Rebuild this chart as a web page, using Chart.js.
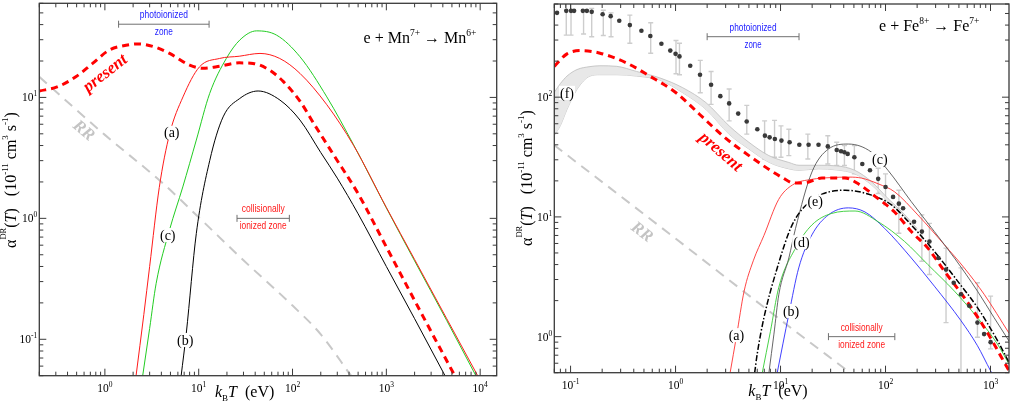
<!DOCTYPE html>
<html lang="en">
<head>
<meta charset="UTF-8">
<title>DR rate coefficients: Mn7+ and Fe8+</title>
<script src="https://cdn.jsdelivr.net/npm/chart.js"></script>
<style>
  body { margin: 0; background: #fff; }
  #wrap { position: relative; width: 1013px; height: 406px; overflow: hidden; }
  canvas { position: absolute; top: 0; }
</style>
</head>
<body>
<div id="wrap">
  <canvas id="mnChart" style="left:0"></canvas>
  <canvas id="feChart" style="left:505px"></canvas>
</div>
<script>
// ---------- left panel: e + Mn7+ -> Mn6+ ----------
const mnPresentT = [0.2, 0.31, 0.49, 0.74, 1.11, 1.68, 2.3, 3.3, 4.9, 8.0, 11.1, 16.7, 27, 38, 57, 80, 120, 175, 274, 500, 1000, 2500, 5360];
const mnPresent  = [11.3, 12.2, 14.8, 19.1, 24.6, 27.0, 27.7, 26.3, 23.1, 18.5, 17.4, 18.1, 19.3, 19.1, 16.8, 13.5, 9.3, 5.8, 3.35, 1.6, 0.58, 0.151, 0.05];
const mnAT = [2.15, 2.6, 3.0, 3.8, 4.9, 6.8, 10.2, 16.7, 27, 45, 73, 120, 232, 448, 1000, 2000, 4400, 9400];
const mnA  = [0.05, 0.16, 0.40, 1.8, 5.0, 10.1, 17.9, 21.0, 21.9, 23.1, 21.0, 15.8, 8.7, 4.0, 1.23, 0.457, 0.148, 0.05];
const mnBT = [6.5, 7.37, 9.43, 13.1, 18.2, 27.4, 43, 73.5, 120, 200, 300, 500, 1000, 2000, 4220];
const mnB  = [0.05, 0.112, 0.75, 3.0, 6.9, 9.8, 11.3, 9.5, 6.5, 3.5, 2.15, 1.09, 0.40, 0.148, 0.05];
const mnCT = [2.53, 3.0, 3.52, 4.88, 6.77, 9.43, 13.1, 19.7, 27.4, 41.4, 67.7, 120, 232, 448, 1000, 2000, 4400, 9000];
const mnC  = [0.05, 0.123, 0.29, 0.80, 1.82, 4.44, 10.8, 21, 29.8, 35.5, 32.7, 21.7, 10.1, 4.05, 1.22, 0.445, 0.143, 0.05];
const mnRRT = [0.2, 1, 4, 10, 30, 100, 200, 420];
const mnRR  = [14.8, 4.9, 2.0, 1.02, 0.45, 0.19, 0.11, 0.05];
const mnXDecades = [0, 1, 2, 3, 4];
const mnYDecades = [-1, 0, 1];

// ---------- right panel: e + Fe8+ -> Fe7+ ----------
const feExpT = [0.0743, 0.091, 0.101, 0.108, 0.131, 0.143, 0.159, 0.202, 0.241, 0.291, 0.367, 0.473, 0.575, 0.733, 0.891, 1.0, 1.09, 1.38, 1.71, 2.18, 2.67, 3.24, 3.95, 4.76, 6.01, 7.10, 7.87, 8.83, 10.2, 12.2, 15.1, 18.5, 23.0, 28.2, 34.3, 37.7, 40.6, 43.6, 50.5, 60.1, 71.1, 85.1, 100, 118, 134, 147, 187, 222, 262, 319, 377, 446, 523, 627, 751, 869, 1002];
const feExp  = [506, 526, 526, 526, 526, 526, 516, 493, 475, 435, 400, 359, 324, 279, 245, 230, 219, 183, 154, 127, 102, 88.7, 72.9, 62.6, 54.0, 47.7, 46.2, 44.7, 43.4, 42.0, 40.1, 40.1, 40.1, 38.8, 36.2, 35.3, 34.7, 33.6, 31.5, 27.7, 24.5, 20.8, 17.8, 14.7, 12.9, 11.8, 9.12, 7.54, 6.23, 4.54, 3.63, 2.82, 2.26, 1.81, 1.31, 1.05, 0.90];
const feErrT  = [0.091, 0.101, 0.133, 0.159, 0.205, 0.243, 0.367, 0.58, 1.01, 1.09, 1.72, 2.18, 3.24, 4.77, 7.05, 8.77, 10.1, 12.0, 18.2, 28.2, 34.3, 40.6, 50.5, 85.1, 100, 134, 222, 262, 377, 523, 751, 1002];
const feErrLo = [330, 330, 337, 320, 327, 320, 282, 233, 157, 154, 109, 87, 63.4, 49.1, 30.5, 31.5, 31.5, 32.5, 30.5, 27.7, 26.9, 26.9, 22.9, 15.7, 12.6, 7.3, 4.26, 3.30, 1.31, 0.3, 0.99, 0.79];
const feErrHi = [700, 700, 532, 550, 532, 506, 484, 418, 297, 282, 203, 164, 117, 85.4, 63.4, 64, 57.6, 54, 49.1, 47.6, 42, 39.4, 39.4, 25.5, 22.9, 16.7, 10.4, 8.84, 5.49, 3.75, 2.82, 2.18];
const feBandT  = [0.07, 0.08, 0.0925, 0.115, 0.153, 0.19, 0.275, 0.425, 0.706, 1.17, 1.95, 3.24, 5.0, 7.75, 12, 15, 23, 34, 51, 74, 106, 150, 200];
const feBandHi = [110, 130, 150, 170, 180, 183, 181, 164, 145, 120, 90, 57.6, 42, 32.5, 28.5, 27, 27, 26.7, 24.5, 19.6, 14.2, 10.6, 8.0];
const feBandLo = [48, 58, 79, 116, 150, 154, 154, 150, 139, 109, 79, 49, 36.9, 28.6, 25.2, 24.5, 25.2, 24.7, 22.9, 18.4, 13.4, 10.2, 7.6];
const fePresentT = [0.07, 0.0925, 0.128, 0.191, 0.342, 0.567, 1.01, 1.69, 2.81, 5.0, 10.4, 13.4, 17.2, 24.8, 41, 55, 85, 122, 176, 253, 364, 562, 869, 1500];
const fePresent  = [181, 230, 245, 233, 193, 150, 109, 72, 47.7, 32.5, 21.3, 19.2, 19.3, 21.1, 21.1, 18.9, 14.2, 11.0, 7.54, 5.49, 3.52, 2.12, 1.2, 0.52];
const feAT = [3.31, 3.8, 4.5, 5.5, 6.95, 9.6, 13, 19.9, 30, 45, 59, 85, 122, 203, 364, 562, 869, 1500];
const feA  = [0.5, 1.0, 2.4, 4.3, 7.0, 14.0, 18.5, 20.6, 21.3, 21.5, 21.1, 18.9, 16.2, 10.4, 5.85, 3.75, 2.26, 1.07];
const feBT = [9.3, 12.0, 14.9, 19.9, 28.6, 44.3, 63.7, 98, 176, 292, 523, 751, 1000, 1150];
const feB  = [0.5, 1.54, 3.75, 7.08, 10.4, 11.9, 11.0, 8.03, 4.54, 2.64, 1.36, 0.84, 0.52, 0.42];
const feCT = [7.75, 8.65, 9.64, 12.0, 13.9, 19.9, 28.6, 44.3, 73.6, 106, 176, 292, 453, 751, 1082, 1500];
const feC  = [0.5, 1.05, 2.26, 4.54, 8.03, 23.7, 36.9, 40.6, 34.7, 24.4, 13.4, 7.54, 4.54, 2.40, 1.44, 0.92];
const feDT = [6.7, 8.0, 9.6, 13.9, 19.9, 30.8, 51.3, 85, 152, 253, 453, 751, 1162, 1500];
const feD  = [0.5, 1.1, 2.56, 5.49, 8.57, 10.7, 11.2, 9.12, 6.23, 4.0, 2.40, 1.44, 0.87, 0.59];
const feET = [5.67, 6.0, 6.95, 9.3, 12.9, 19.9, 41.2, 73.6, 114, 176, 292, 486, 751, 1162, 1500];
const feE  = [0.5, 0.72, 1.44, 3.75, 8.57, 13.8, 16.7, 15.2, 12.6, 8.57, 5.15, 2.91, 1.75, 0.93, 0.61];
const feRRT = [0.07, 1, 10, 46];
const feRR  = [39.7, 6.6, 1.38, 0.5];
const feXDecades = [-1, 0, 1, 2, 3];
const feYDecades = [0, 1, 2];

const SERIF = '"Liberation Serif", "Times New Roman", serif';
const NARROW = '"Liberation Sans Narrow", "Liberation Sans", Arial, sans-serif';
const sf = (px, style) => (style || '') + ' ' + px + 'px ' + SERIF;

const pts = (T, Y) => T.map((t, i) => ({ x: t, y: Y[i] }));
const curve = (T, Y, color, width, dash) => ({
  data: pts(T, Y), borderColor: color, borderWidth: width, borderDash: dash || [],
  pointRadius: 0, fill: false, cubicInterpolationMode: 'monotone'
});

// draws a run of text pieces (sub/superscripts) on one baseline
function rich(ctx, parts, x, y, align) {
  let w = 0;
  parts.forEach(p => { ctx.font = p.f; p.w = ctx.measureText(p.t).width; w += p.w; });
  let cx = align === 'center' ? x - w / 2 : align === 'right' ? x - w : x;
  ctx.textAlign = 'left';
  parts.forEach(p => { ctx.font = p.f; ctx.fillText(p.t, cx, y + (p.dy || 0)); cx += p.w; });
  return w;
}

// text squeezed to a given width (small condensed zone captions)
function fitText(ctx, t, x, y, w, font) {
  ctx.font = font;
  const m = ctx.measureText(t).width;
  ctx.save();
  ctx.translate(x, y);
  ctx.scale(w / m, 1);
  ctx.textAlign = 'center';
  ctx.fillText(t, 0, 0);
  ctx.restore();
}

const yTitle = () => [
  { t: 'α', f: sf(16) }, { t: 'DR', f: sf(8.5), dy: -10 }, { t: '(', f: sf(16) },
  { t: 'T', f: sf(16, 'italic') }, { t: ')   (10', f: sf(16) }, { t: '-11', f: sf(9), dy: -8 },
  { t: ' cm', f: sf(16) }, { t: '3', f: sf(9), dy: -8 }, { t: ' s', f: sf(16) },
  { t: '-1', f: sf(9), dy: -8 }, { t: ')', f: sf(16) }
];
const xTitle = () => [
  { t: 'k', f: sf(16, 'italic') }, { t: 'B', f: sf(9), dy: 4 },
  { t: 'T', f: sf(16, 'italic') }, { t: '  (eV)', f: sf(16) }
];
const reaction = (ion, q1, q2) => [
  { t: 'e + ' + ion, f: sf(16) }, { t: q1, f: sf(9.5), dy: -7 },
  { t: ' → ' + ion, f: sf(16) }, { t: q2, f: sf(9.5), dy: -7 }
];

const PANELS = {
  mnChart: {
    xDec: mnXDecades, yDec: mnYDecades,
    xTitleDx: 175.7, xTitleDy: 21, yTitleX: 15.5, yTitleY: 180,
    title: { parts: () => reaction('Mn', '7+', '6+'), dx: -76.7, y: 43 },
    zones: [
      { t0: 1.4, t1: 12.9, y: 40.3, top: 'photoionized', bottom: 'zone', color: '#2020ff', wTop: 48, wBot: 18 },
      { t0: 25.6, t1: 92.5, y: 1.0, top: 'collisionally', bottom: 'ionized zone', color: '#ff1a1a', wTop: 43, wBot: 47 }
    ],
    labels: [
      { t: '(a)', x: 5.16, y: 5.1 }, { t: '(c)', x: 4.68, y: 0.728 }, { t: '(b)', x: 7.19, y: 0.0987 },
      { t: 'present', x: 1.0, y: 16.0, rot: -38, font: sf(17, 'italic bold'), color: '#ff0000' },
      { t: 'RR', x: 0.6, y: 5.37, rot: 40, font: sf(17, 'italic bold'), color: '#c4c4c4' }
    ]
  },
  feChart: {
    xDec: feXDecades, yDec: feYDecades,
    xTitleDx: 194, xTitleDy: 23.3, yTitleX: 26.5, yTitleY: 178,
    title: { parts: () => reaction('Fe', '8+', '7+'), dx: -79.8, y: 31 },
    errors: { T: feErrT, lo: feErrLo, hi: feErrHi },
    zones: [
      { t0: 2.0, t1: 15, y: 320, top: 'photoionized', bottom: 'zone', color: '#2020ff', wTop: 47, wBot: 17 },
      { t0: 28.6, t1: 122.6, y: 1.0, top: 'collisionally', bottom: 'ionized zone', color: '#ff1a1a', wTop: 42, wBot: 47 }
    ],
    labels: [
      { t: '(f)', x: 0.0925, y: 108.7 }, { t: '(c)', x: 88.3, y: 30.5 }, { t: '(e)', x: 21.4, y: 13.4 },
      { t: '(d)', x: 15.8, y: 6.15 }, { t: '(b)', x: 12.6, y: 1.64 }, { t: '(a)', x: 3.8, y: 1.03 },
      { t: 'present', x: 2.71, y: 35.3, rot: 41, font: sf(17, 'italic bold'), color: '#ff0000' },
      { t: 'RR', x: 0.482, y: 7.54, rot: 37, font: sf(17, 'italic bold'), color: '#c4c4c4' }
    ]
  }
};

const framePlugin = {
  id: 'frame',
  beforeDatasetsDraw(chart) {
    const P = PANELS[chart.canvas.id], e = P.errors;
    if (!e) return;
    const { ctx, chartArea: a, scales: { x, y } } = chart;
    ctx.save();
    ctx.beginPath(); ctx.rect(a.left, a.top, a.right - a.left, a.bottom - a.top); ctx.clip();
    ctx.strokeStyle = '#cdcdcd'; ctx.lineWidth = 1.4;
    e.T.forEach((t, i) => {
      const px = x.getPixelForValue(t), p0 = y.getPixelForValue(e.lo[i]), p1 = y.getPixelForValue(e.hi[i]);
      ctx.beginPath();
      ctx.moveTo(px, p0); ctx.lineTo(px, p1);
      ctx.moveTo(px - 2.5, p0); ctx.lineTo(px + 2.5, p0);
      ctx.moveTo(px - 2.5, p1); ctx.lineTo(px + 2.5, p1);
      ctx.stroke();
    });
    ctx.restore();
  },
  afterDatasetsDraw(chart) {
    const P = PANELS[chart.canvas.id];
    const { ctx, chartArea: a, scales: { x, y } } = chart;
    ctx.save();
    // zone bars
    P.zones.forEach(z => {
      const x0 = x.getPixelForValue(z.t0), x1 = x.getPixelForValue(z.t1), py = y.getPixelForValue(z.y);
      ctx.strokeStyle = '#707070'; ctx.lineWidth = 1;
      ctx.beginPath();
      ctx.moveTo(x0, py); ctx.lineTo(x1, py);
      ctx.moveTo(x0, py - 3.5); ctx.lineTo(x0, py + 3.5);
      ctx.moveTo(x1, py - 3.5); ctx.lineTo(x1, py + 3.5);
      ctx.stroke();
      ctx.fillStyle = z.color;
      const cx = (x0 + x1) / 2;
      fitText(ctx, z.top, cx, py - 6, z.wTop, '11px ' + NARROW);
      fitText(ctx, z.bottom, cx, py + 11, z.wBot, '11px ' + NARROW);
    });
    // curve labels
    P.labels.forEach(l => {
      const px = x.getPixelForValue(l.x), py = y.getPixelForValue(l.y);
      ctx.save();
      ctx.translate(px, py);
      ctx.font = l.font || sf(14);
      ctx.textAlign = 'center'; ctx.textBaseline = 'middle';
      if (l.rot) ctx.rotate(l.rot * Math.PI / 180);
      else {
        const w = ctx.measureText(l.t).width;
        ctx.fillStyle = '#fff';
        ctx.fillRect(-w / 2 - 1, -7, w + 2, 14);
      }
      ctx.fillStyle = l.color || '#000';
      ctx.fillText(l.t, 0, 1);
      ctx.restore();
    });
    // reaction title
    ctx.fillStyle = '#000';
    rich(ctx, P.title.parts(), a.right + P.title.dx, P.title.y, 'center');
    ctx.restore();
  },
  afterDraw(chart) {
    const P = PANELS[chart.canvas.id];
    const { ctx, chartArea: a, scales: { x, y } } = chart;
    ctx.save();
    ctx.strokeStyle = '#3a3a3a'; ctx.lineWidth = 1.3;
    ctx.strokeRect(a.left, a.top, a.right - a.left, a.bottom - a.top);
    ctx.lineWidth = 1;
    const tick = (scale, horiz, lo, hi) => {
      for (let d = Math.floor(Math.log10(lo)); d <= Math.ceil(Math.log10(hi)); d++) {
        for (let m = 1; m <= 9; m++) {
          const v = m * Math.pow(10, d);
          if (v < lo * 0.999 || v > hi * 1.001) continue;
          const p = scale.getPixelForValue(v), len = m === 1 ? 7 : 4;
          ctx.beginPath();
          if (horiz) {
            ctx.moveTo(p, a.bottom); ctx.lineTo(p, a.bottom - len);
            ctx.moveTo(p, a.top); ctx.lineTo(p, a.top + len);
          } else {
            ctx.moveTo(a.left, p); ctx.lineTo(a.left + len, p);
            ctx.moveTo(a.right, p); ctx.lineTo(a.right - len, p);
          }
          ctx.stroke();
        }
      }
    };
    tick(x, true, x.min, x.max);
    tick(y, false, y.min, y.max);
    ctx.fillStyle = '#000';
    P.xDec.forEach(d => {
      rich(ctx, [{ t: '10', f: sf(11.5) }, { t: String(d), f: sf(7.5), dy: -5 }],
        x.getPixelForValue(Math.pow(10, d)), a.bottom + 16.5, 'center');
    });
    P.yDec.forEach(d => {
      rich(ctx, [{ t: '10', f: sf(11.5) }, { t: String(d), f: sf(7.5), dy: -5 }],
        a.left - 2, y.getPixelForValue(Math.pow(10, d)) + 4, 'right');
    });
    rich(ctx, xTitle(), a.left + P.xTitleDx, a.bottom + P.xTitleDy, 'left');
    ctx.translate(P.yTitleX, P.yTitleY);
    ctx.rotate(-Math.PI / 2);
    rich(ctx, yTitle(), 0, 0, 'center');
    ctx.restore();
  }
};

function makeChart(id, w, pad, xr, yr, datasets) {
  const cv = document.getElementById(id);
  cv.width = w; cv.height = 406;
  cv.style.width = w + 'px'; cv.style.height = '406px';
  return new Chart(cv, {
    type: 'line',
    data: { datasets },
    options: {
      responsive: false,
      animation: false,
      layout: { padding: pad },
      scales: {
        x: { type: 'logarithmic', min: xr[0], max: xr[1], display: false },
        y: { type: 'logarithmic', min: yr[0], max: yr[1], display: false }
      },
      plugins: { legend: { display: false }, tooltip: { enabled: false } }
    },
    plugins: [framePlugin]
  });
}

const DASH = [7, 5], RRDASH = [10, 7];

makeChart('mnChart', 505, { left: 39.3, right: 8.3, top: 3.3, bottom: 30.3 }, [0.2, 15000], [0.05, 60], [
  curve(mnPresentT, mnPresent, '#ff0000', 3, DASH),
  curve(mnAT, mnA, '#ff1a1a', 1),
  curve(mnCT, mnC, '#22cc22', 1),
  curve(mnBT, mnB, '#000000', 1),
  curve(mnRRT, mnRR, '#c8c8c8', 2, RRDASH)
]);

makeChart('feChart', 508, { left: 49.3, right: 1.2, top: 0.8, bottom: 33.3 }, [0.07, 1500], [0.5, 600], [
  { data: pts(feExpT, feExp), showLine: false, pointRadius: 2.3, pointBackgroundColor: '#3a3a3a', pointBorderWidth: 0 },
  curve(fePresentT, fePresent, '#ff0000', 3, DASH),
  curve(feET, feE, '#000000', 1.5, [6, 2, 1.5, 2]),
  curve(feCT, feC, '#555555', 0.9),
  curve(feAT, feA, '#ff3030', 0.9),
  curve(feDT, feD, '#33cc33', 0.9),
  curve(feBT, feB, '#2a2aff', 0.9),
  curve(feRRT, feRR, '#c8c8c8', 2, RRDASH),
  Object.assign(curve(feBandT, feBandHi, '#bdbdbd', 0.8), { fill: '+1', backgroundColor: '#e8e8e8' }),
  curve(feBandT, feBandLo, '#bdbdbd', 0.8)
]);
</script>
</body>
</html>
